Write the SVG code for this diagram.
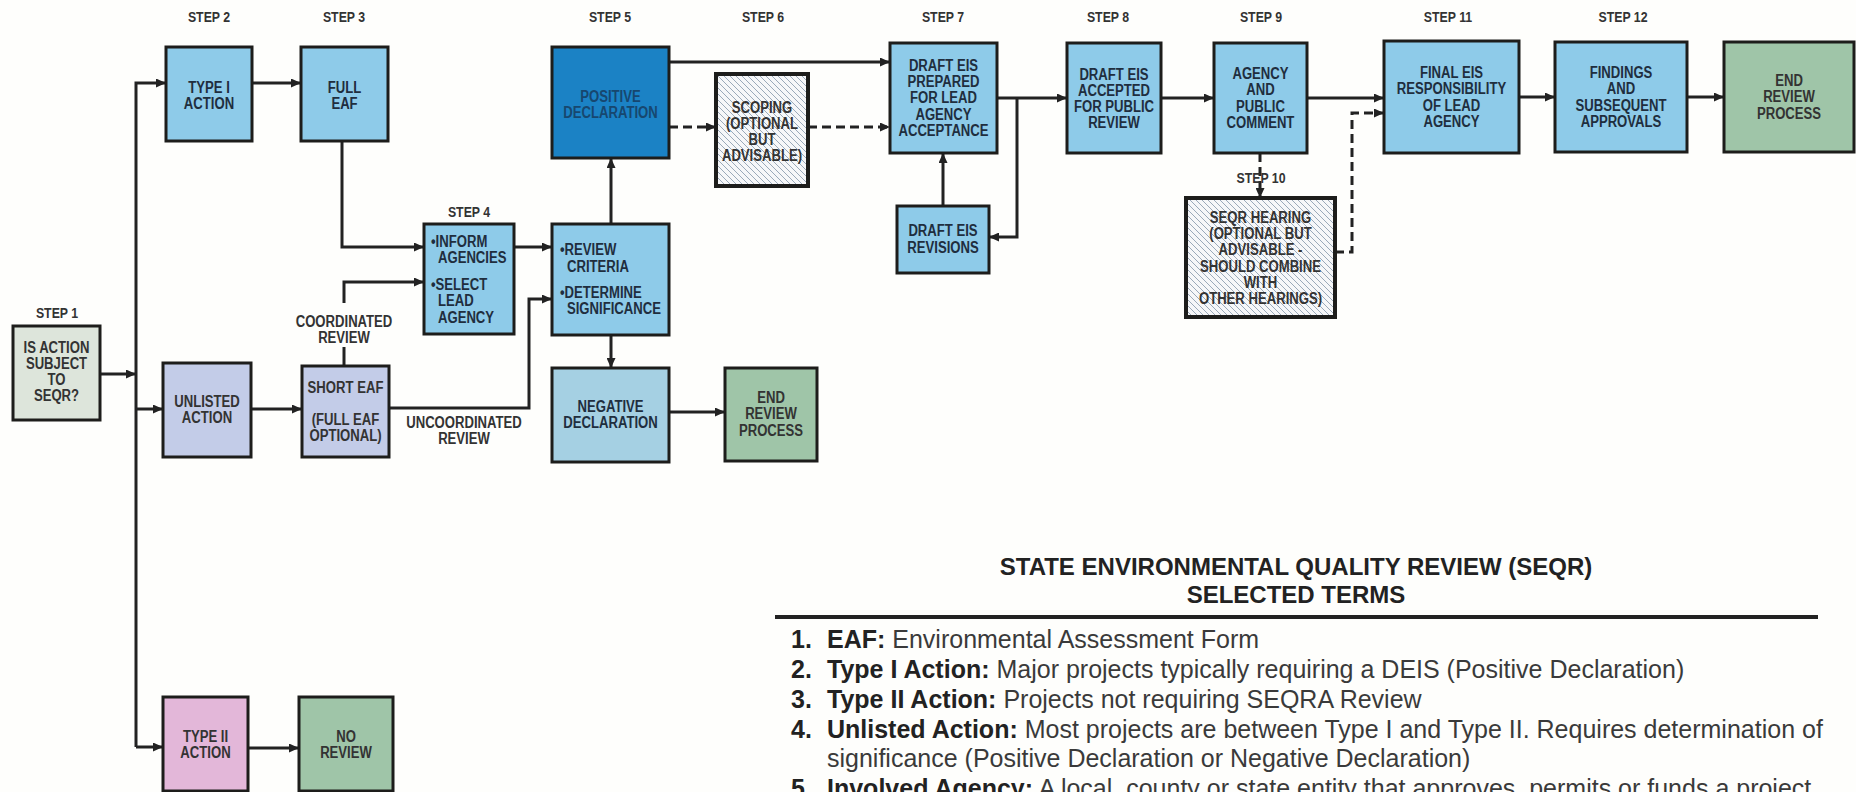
<svg xmlns="http://www.w3.org/2000/svg" width="1856" height="792" viewBox="0 0 1856 792">
<style>
.bg{fill:#fefefc}
.box{stroke:#1d1d1b;stroke-width:3}
.hbox{stroke:#1d1d1b;stroke-width:4;fill:url(#hatch)}
.lb{fill:#8ecbe9}
.lav{fill:#c3cce8}
.grn{fill:#9fc5a8}
.n{font-family:"Liberation Sans",Arial,sans-serif;font-weight:bold;font-size:16px;fill:#1f2e3e;text-anchor:middle}
.l{text-anchor:start}
.s{font-family:"Liberation Sans",Arial,sans-serif;font-weight:bold;font-size:14px;fill:#333;text-anchor:middle}
.c{fill:none;stroke:#222;stroke-width:3;marker-end:url(#ah)}
.d{stroke-dasharray:9 5}
.lt{font-family:"Liberation Sans",Arial,sans-serif;font-weight:bold;font-size:24px;fill:#222;text-anchor:middle}
.li{font-family:"Liberation Sans",Arial,sans-serif;font-size:25px;fill:#3a3a3a}
.li tspan.b{font-weight:bold;fill:#222}
</style>
<defs>
<marker id="ah" markerUnits="userSpaceOnUse" markerWidth="10" markerHeight="9" refX="10" refY="4.5" orient="auto">
<path d="M0,0 L10,4.5 L0,9 z" fill="#222"/>
</marker>
<pattern id="hatch" patternUnits="userSpaceOnUse" width="6" height="6">
<rect width="6" height="6" fill="#f6f7f9"/>
<path d="M0,0 L6,6 M-1,5 L1,7 M5,-1 L7,1" stroke="#9aa9b9" stroke-width="1"/>
</pattern>
</defs>
<rect class="bg" x="0" y="0" width="1856" height="792"/>

<g id="connectors">
<path class="c" d="M100,374 H136"/>
<path class="c" d="M136,747 V83 H166"/>
<path class="c" d="M136,409 H163"/>
<path class="c" d="M136,747 H163"/>
<path class="c" d="M252,83 H301"/>
<path class="c" d="M342,141 V247 H424"/>
<path class="c" d="M251,409 H302"/>
<path class="c" d="M344,366 V347 M344,303 V282 H424"/>
<path class="c" d="M389,408 H529 V299 H552"/>
<path class="c" d="M514,247 H552"/>
<path class="c" d="M611,224 V158"/>
<path class="c" d="M611,335 V368"/>
<path class="c" d="M669,412 H725"/>
<path class="c" d="M669,62 H890"/>
<path class="c d" d="M669,127 H716"/>
<path class="c d" d="M808,127 H890"/>
<path class="c" d="M997,98 H1067"/>
<path class="c" d="M1017,98 V237 H989"/>
<path class="c" d="M943,206 V153"/>
<path class="c" d="M1161,98 H1214"/>
<path class="c" d="M1307,98 H1384"/>
<path class="c d" d="M1260,153 V198"/>
<path class="c d" d="M1335,252 H1352 V113 H1384"/>
<path class="c" d="M1519,97 H1555"/>
<path class="c" d="M1687,97 H1724"/>
<path class="c" d="M248,748 H299"/>
</g>

<g id="step-labels">
<text class="s" transform="translate(209,22) scale(0.88,1)">STEP 2</text>
<text class="s" transform="translate(344,22) scale(0.88,1)">STEP 3</text>
<text class="s" transform="translate(610,22) scale(0.88,1)">STEP 5</text>
<text class="s" transform="translate(763,22) scale(0.88,1)">STEP 6</text>
<text class="s" transform="translate(943,22) scale(0.88,1)">STEP 7</text>
<text class="s" transform="translate(1108,22) scale(0.88,1)">STEP 8</text>
<text class="s" transform="translate(1261,22) scale(0.88,1)">STEP 9</text>
<text class="s" transform="translate(1448,22) scale(0.88,1)">STEP 11</text>
<text class="s" transform="translate(1623,22) scale(0.88,1)">STEP 12</text>
<text class="s" transform="translate(469,217) scale(0.88,1)">STEP 4</text>
<text class="s" transform="translate(57,318) scale(0.88,1)">STEP 1</text>
<text class="s" transform="translate(1261,183) scale(0.88,1)">STEP 10</text>
</g>

<g id="edge-labels">
<text class="n" style="fill:#333" transform="translate(344,327) scale(0.82,1)"><tspan x="0">COORDINATED</tspan><tspan x="0" dy="16">REVIEW</tspan></text>
<text class="n" style="fill:#333" transform="translate(464,428) scale(0.82,1)"><tspan x="0">UNCOORDINATED</tspan><tspan x="0" dy="16">REVIEW</tspan></text>
</g>

<g id="step1">
<rect class="box" x="13" y="326" width="87" height="94" fill="#dde5db"/>
<text class="n" style="fill:#333" transform="translate(56.5,353) scale(0.82,1)"><tspan x="0">IS ACTION</tspan><tspan x="0" dy="16">SUBJECT</tspan><tspan x="0" dy="16">TO</tspan><tspan x="0" dy="16">SEQR?</tspan></text>
</g>
<g id="type1">
<rect class="box lb" x="166" y="47" width="86" height="94"/>
<text class="n" transform="translate(209,93) scale(0.82,1)"><tspan x="0">TYPE I</tspan><tspan x="0" dy="16">ACTION</tspan></text>
</g>
<g id="full-eaf">
<rect class="box lb" x="301" y="47" width="87" height="94"/>
<text class="n" transform="translate(344.5,93) scale(0.82,1)"><tspan x="0">FULL</tspan><tspan x="0" dy="16">EAF</tspan></text>
</g>
<g id="unlisted">
<rect class="box lav" x="163" y="363" width="88" height="94"/>
<text class="n" style="fill:#333" transform="translate(207,407) scale(0.82,1)"><tspan x="0">UNLISTED</tspan><tspan x="0" dy="16">ACTION</tspan></text>
</g>
<g id="short-eaf">
<rect class="box lav" x="302" y="366" width="87" height="91"/>
<text class="n" style="fill:#333" transform="translate(345.5,393) scale(0.82,1)"><tspan x="0">SHORT EAF</tspan><tspan x="0" dy="32">(FULL EAF</tspan><tspan x="0" dy="16">OPTIONAL)</tspan></text>
</g>
<g id="type2">
<rect class="box" x="163" y="697" width="85" height="94" fill="#e3b7d9"/>
<text class="n" style="fill:#333" transform="translate(205.5,742) scale(0.82,1)"><tspan x="0">TYPE II</tspan><tspan x="0" dy="16">ACTION</tspan></text>
</g>
<g id="no-review">
<rect class="box grn" x="299" y="697" width="94" height="94"/>
<text class="n" style="fill:#333" transform="translate(346,742) scale(0.82,1)"><tspan x="0">NO</tspan><tspan x="0" dy="16">REVIEW</tspan></text>
</g>
<g id="step4">
<rect class="box lb" x="424" y="224" width="90" height="110"/>
<text class="n l" transform="translate(431,247) scale(0.82,1)"><tspan x="0">•INFORM</tspan><tspan x="8.5" dy="16">AGENCIES</tspan><tspan x="0" dy="27">•SELECT</tspan><tspan x="8.5" dy="16.5">LEAD</tspan><tspan x="8.5" dy="16.5">AGENCY</tspan></text>
</g>
<g id="review-criteria">
<rect class="box lb" x="552" y="224" width="117" height="111"/>
<text class="n l" transform="translate(560,255) scale(0.82,1)"><tspan x="0">•REVIEW</tspan><tspan x="8.5" dy="17">CRITERIA</tspan><tspan x="0" dy="26">•DETERMINE</tspan><tspan x="8.5" dy="16">SIGNIFICANCE</tspan></text>
</g>
<g id="positive-declaration">
<rect class="box" x="552" y="47" width="117" height="111" fill="#1b82c5"/>
<text class="n" style="fill:#17476f" transform="translate(610.5,102) scale(0.82,1)"><tspan x="0">POSITIVE</tspan><tspan x="0" dy="16">DECLARATION</tspan></text>
</g>
<g id="negative-declaration">
<rect class="box" x="552" y="368" width="117" height="94" fill="#a5d0e3"/>
<text class="n" transform="translate(610.5,412) scale(0.82,1)"><tspan x="0">NEGATIVE</tspan><tspan x="0" dy="16">DECLARATION</tspan></text>
</g>
<g id="end-review-1">
<rect class="box grn" x="725" y="368" width="92" height="93"/>
<text class="n" style="fill:#333" transform="translate(771,403) scale(0.82,1)"><tspan x="0">END</tspan><tspan x="0" dy="16.5">REVIEW</tspan><tspan x="0" dy="16.5">PROCESS</tspan></text>
</g>
<g id="scoping">
<rect class="hbox" x="716" y="74" width="92" height="112"/>
<text class="n" style="fill:#333" transform="translate(762,113) scale(0.82,1)"><tspan x="0">SCOPING</tspan><tspan x="0" dy="16">(OPTIONAL</tspan><tspan x="0" dy="16">BUT</tspan><tspan x="0" dy="16">ADVISABLE)</tspan></text>
</g>
<g id="draft-eis">
<rect class="box lb" x="890" y="43" width="107" height="110"/>
<text class="n" transform="translate(943.5,71) scale(0.82,1)"><tspan x="0">DRAFT EIS</tspan><tspan x="0" dy="16.25">PREPARED</tspan><tspan x="0" dy="16.25">FOR LEAD</tspan><tspan x="0" dy="16.25">AGENCY</tspan><tspan x="0" dy="16.25">ACCEPTANCE</tspan></text>
</g>
<g id="draft-eis-revisions">
<rect class="box lb" x="897" y="206" width="92" height="67"/>
<text class="n" transform="translate(943,236) scale(0.82,1)"><tspan x="0">DRAFT EIS</tspan><tspan x="0" dy="17">REVISIONS</tspan></text>
</g>
<g id="step8">
<rect class="box lb" x="1067" y="43" width="94" height="110"/>
<text class="n" transform="translate(1114,80) scale(0.82,1)"><tspan x="0">DRAFT EIS</tspan><tspan x="0" dy="16">ACCEPTED</tspan><tspan x="0" dy="16">FOR PUBLIC</tspan><tspan x="0" dy="16">REVIEW</tspan></text>
</g>
<g id="step9">
<rect class="box lb" x="1214" y="43" width="93" height="110"/>
<text class="n" transform="translate(1260.5,79) scale(0.82,1)"><tspan x="0">AGENCY</tspan><tspan x="0" dy="16.3">AND</tspan><tspan x="0" dy="16.3">PUBLIC</tspan><tspan x="0" dy="16.3">COMMENT</tspan></text>
</g>
<g id="step10">
<rect class="hbox" x="1186" y="198" width="149" height="119"/>
<text class="n" style="fill:#333" transform="translate(1260.5,223) scale(0.82,1)"><tspan x="0">SEQR HEARING</tspan><tspan x="0" dy="16.2">(OPTIONAL BUT</tspan><tspan x="0" dy="16.2">ADVISABLE -</tspan><tspan x="0" dy="16.2">SHOULD COMBINE</tspan><tspan x="0" dy="16.2">WITH</tspan><tspan x="0" dy="16.2">OTHER HEARINGS)</tspan></text>
</g>
<g id="step11">
<rect class="box lb" x="1384" y="41" width="135" height="112"/>
<text class="n" transform="translate(1451.5,78) scale(0.82,1)"><tspan x="0">FINAL EIS</tspan><tspan x="0" dy="16.3">RESPONSIBILITY</tspan><tspan x="0" dy="16.3">OF LEAD</tspan><tspan x="0" dy="16.3">AGENCY</tspan></text>
</g>
<g id="step12">
<rect class="box lb" x="1555" y="42" width="132" height="110"/>
<text class="n" transform="translate(1621,78) scale(0.82,1)"><tspan x="0">FINDINGS</tspan><tspan x="0" dy="16.3">AND</tspan><tspan x="0" dy="16.3">SUBSEQUENT</tspan><tspan x="0" dy="16.3">APPROVALS</tspan></text>
</g>
<g id="end-review-2">
<rect class="box grn" x="1724" y="42" width="130" height="110"/>
<text class="n" style="fill:#333" transform="translate(1789,86) scale(0.82,1)"><tspan x="0">END</tspan><tspan x="0" dy="16.5">REVIEW</tspan><tspan x="0" dy="16.5">PROCESS</tspan></text>
</g>

<g id="legend">
<text class="lt" x="1296" y="575">STATE ENVIRONMENTAL QUALITY REVIEW (SEQR)</text>
<text class="lt" x="1296" y="603">SELECTED TERMS</text>
<line x1="775" y1="617" x2="1818" y2="617" stroke="#222" stroke-width="4"/>
<text class="li" y="648"><tspan class="b" x="791">1.</tspan><tspan class="b" x="827">EAF:</tspan> Environmental Assessment Form</text>
<text class="li" y="678"><tspan class="b" x="791">2.</tspan><tspan class="b" x="827">Type I Action:</tspan> Major projects typically requiring a DEIS (Positive Declaration)</text>
<text class="li" y="708"><tspan class="b" x="791">3.</tspan><tspan class="b" x="827">Type II Action:</tspan> Projects not requiring SEQRA Review</text>
<text class="li" y="738"><tspan class="b" x="791">4.</tspan><tspan class="b" x="827">Unlisted Action:</tspan> Most projects are between Type I and Type II. Requires determination of</text>
<text class="li" x="827" y="767">significance (Positive Declaration or Negative Declaration)</text>
<text class="li" y="797"><tspan class="b" x="791">5.</tspan><tspan class="b" x="827">Involved Agency:</tspan> A local, county or state entity that approves, permits or funds a project</text>
</g>
</svg>
